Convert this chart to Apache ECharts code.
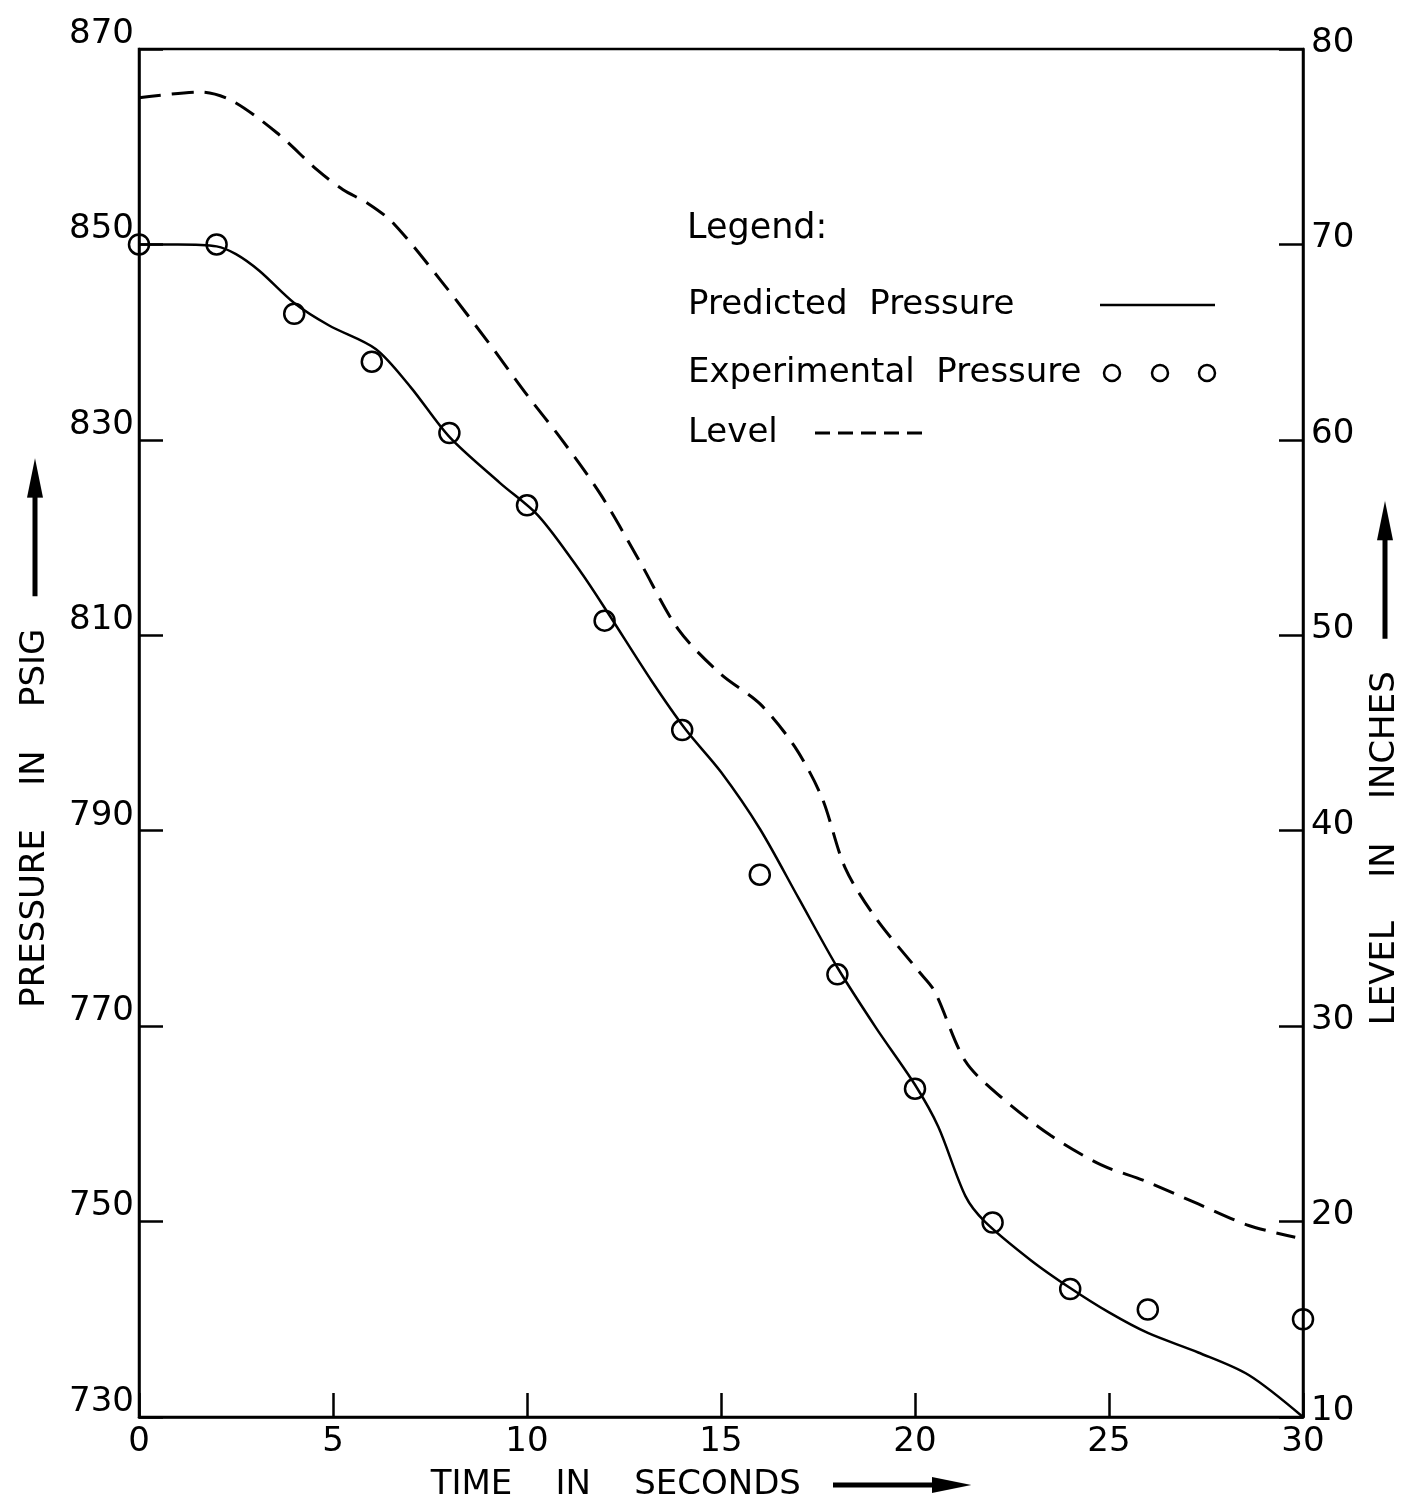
<!DOCTYPE html>
<html><head><meta charset="utf-8">
<script src="https://cdn.jsdelivr.net/npm/echarts@6/dist/echarts.min.js"></script>
<style>html,body{margin:0;padding:0;background:#fff}#c{width:1405px;height:1512px}</style>
</head><body><div id="c"></div>
<script>
const timeTicks = [0, 5, 10, 15, 20, 25, 30];
const pressureTicks = [730, 750, 770, 790, 810, 830, 850, 870];
const levelTicks = [10, 20, 30, 40, 50, 60, 70, 80];

const predictedTime = [0, 1, 2, 2.5, 3.1, 4, 4.9, 6.1, 7, 8, 9.3, 10.3, 11.4, 12.1, 13.2, 14.1, 15, 16, 17, 18, 19, 20, 20.6, 21.3, 21.8, 23, 24, 25, 26, 27.3, 28.6, 30];
const predictedPressure = [850, 850, 849.8, 849, 847.3, 844, 841.7, 839.3, 835.4, 830.3, 825.6, 822.2, 816.4, 812.2, 805.4, 800.3, 796, 790.2, 783.1, 776, 769.8, 764, 759.7, 752.6, 750, 746, 743.2, 740.7, 738.6, 736.6, 734.3, 730];

const experimentalTime = [0, 2, 4, 6, 8, 10, 12, 14, 16, 18, 20, 22, 24, 26, 30];
const experimentalPressure = [850, 850, 842.9, 838, 830.7, 823.3, 811.5, 800.3, 785.5, 775.3, 763.6, 749.9, 743.1, 741, 740];

const levelTime = [0, 1.6, 2.4, 3.56, 4.6, 5.26, 5.9, 6.55, 7.8, 9, 10, 10.9, 11.9, 12.9, 13.9, 15, 16, 16.9, 17.6, 18.2, 19, 20.1, 20.5, 21.3, 22.2, 23.5, 24.8, 25.9, 27.3, 28.6, 29.8];
const levelInches = [77.5, 77.8, 77.35, 75.7, 73.8, 72.8, 72.1, 71.1, 68.1, 65, 62.3, 60, 57.2, 53.8, 50.3, 48, 46.5, 44.3, 41.7, 38.1, 35.5, 32.8, 31.8, 28.2, 26.4, 24.4, 22.9, 22.1, 20.9, 19.8, 19.2];

const FONT = 'DejaVu Sans';
const zip = (a, b) => a.map((v, i) => [v, b[i]]);
const circlesIcon = 'path://M0,8A8,8 0 1 1 16,8A8,8 0 1 1 0,8Z M48,8A8,8 0 1 1 64,8A8,8 0 1 1 48,8Z M95,8A8,8 0 1 1 111,8A8,8 0 1 1 95,8Z';
const hiddenSymbol = {color: 'rgba(0,0,0,0)', borderWidth: 0, opacity: 0};

// arrow picture used as a text-token background in the axis titles
const arrowImg = document.createElement('canvas');
arrowImg.width = 140; arrowImg.height = 20;
(function () {
  const g = arrowImg.getContext('2d');
  g.fillStyle = '#000';
  g.fillRect(0, 7.5, 108, 5);
  g.beginPath(); g.moveTo(100, 2); g.lineTo(140, 10); g.lineTo(100, 18); g.closePath(); g.fill();
})();

const chart = echarts.init(document.getElementById('c'), null, {renderer: 'canvas'});
const axisCommon = {
  axisLine: {show: true, lineStyle: {color: '#000', width: 2.5}},
  axisTick: {show: true, inside: true, length: 24, lineStyle: {color: '#000', width: 2.5}},
  splitLine: {show: false},
  nameMoveOverlap: false
};
const arrowToken = {width: 138, height: 20, lineHeight: 34, backgroundColor: {image: arrowImg}};
const nameStyle = (tail) => ({fontFamily: FONT, fontSize: 34, color: '#000', lineHeight: 34,
  rich: {a: arrowToken, s: {width: tail, lineHeight: 34}}});
function legendItem(item, top, tokenWidth, itemWidth) {
  return {
    orient: 'vertical', left: 688, top: top, align: 'right', padding: 0,
    itemWidth: itemWidth, itemHeight: 16,
    textStyle: {fontFamily: FONT, fontSize: 34, color: '#000', lineHeight: 40,
      rich: {t: {fontFamily: FONT, fontSize: 34, width: tokenWidth, align: 'left'}}},
    formatter: n => '{t|' + n.replace(/ /g, '  ') + '}',
    data: [item]
  };
}
chart.setOption({
  animation: false,
  backgroundColor: '#fff',
  grid: {left: 139, right: 102, top: 49, bottom: 95, show: true, borderColor: '#000', borderWidth: 2.5, outerBoundsMode: 'none'},
  title: {text: 'Legend:', left: 687, top: 211, padding: 0, textStyle: {fontFamily: FONT, fontSize: 35, fontWeight: 'normal', color: '#000'}},
  legend: [
    legendItem({name: 'Predicted Pressure', itemStyle: hiddenSymbol, lineStyle: {width: 2.5, color: '#000'}}, 285, 407, 115),
    legendItem({name: 'Experimental Pressure', icon: circlesIcon, itemStyle: {color: 'rgba(0,0,0,0)', borderColor: '#000', borderWidth: 2.5}}, 353, 411, 111),
    legendItem({name: 'Level', itemStyle: hiddenSymbol, lineStyle: {width: 3, color: '#000', type: [15, 8]}}, 413, 122, 110)
  ],
  xAxis: Object.assign({}, axisCommon, {
    type: 'value', min: timeTicks[0], max: timeTicks[timeTicks.length - 1], interval: timeTicks[1] - timeTicks[0],
    axisLabel: {fontFamily: FONT, fontSize: 34, color: '#000', margin: 8},
    name: 'TIME    IN    SECONDS   {a| }{s|}', nameLocation: 'middle', nameGap: 51,
    nameTextStyle: nameStyle(40)
  }),
  yAxis: [
    Object.assign({}, axisCommon, {
      type: 'value', position: 'left', min: pressureTicks[0], max: pressureTicks[pressureTicks.length - 1], interval: pressureTicks[1] - pressureTicks[0],
      axisLabel: {fontFamily: FONT, fontSize: 34, color: '#000', margin: 5, verticalAlign: 'bottom', lineHeight: 30},
      name: 'PRESSURE    IN    PSIG   {a| }', nameLocation: 'middle', nameGap: 87, nameRotate: 90,
      nameTextStyle: nameStyle(0)
    }),
    Object.assign({}, axisCommon, {
      type: 'value', position: 'right', min: levelTicks[0], max: levelTicks[levelTicks.length - 1], interval: levelTicks[1] - levelTicks[0],
      axisLabel: {fontFamily: FONT, fontSize: 34, color: '#000', margin: 8, verticalAlign: 'bottom', lineHeight: 12},
      name: 'LEVEL    IN    INCHES   {a| }{s|}', nameLocation: 'middle', nameGap: 65, nameRotate: 90,
      nameTextStyle: nameStyle(60)
    })
  ],
  series: [
    {name: 'Predicted Pressure', type: 'line', yAxisIndex: 0, data: zip(predictedTime, predictedPressure),
      smooth: 0.3, symbol: 'none', itemStyle: {color: '#000'}, lineStyle: {color: '#000', width: 2.5}, z: 3},
    {name: 'Experimental Pressure', type: 'scatter', yAxisIndex: 0, data: zip(experimentalTime, experimentalPressure),
      symbol: 'circle', symbolSize: 20, clip: false,
      itemStyle: {color: 'rgba(0,0,0,0)', borderColor: '#000', borderWidth: 2.5, opacity: 1}, z: 4},
    {name: 'Level', type: 'line', yAxisIndex: 1, data: zip(levelTime, levelInches),
      smooth: 0.3, symbol: 'none', itemStyle: {color: '#000'}, lineStyle: {color: '#000', width: 3, type: [22, 11]}, z: 3}
  ]
});
</script></body></html>
